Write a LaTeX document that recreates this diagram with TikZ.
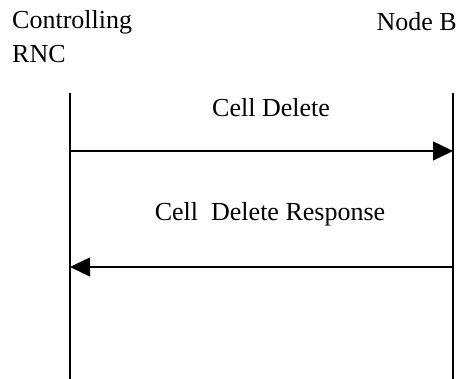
\documentclass[tikz,border=0pt]{standalone}
\usepackage{fontspec}
\setmainfont{Liberation Serif}
\usetikzlibrary{arrows.meta}
\begin{document}
\begin{tikzpicture}[x=1pt,y=1pt,
  lbl/.style={inner sep=0pt,font=\fontsize{26}{34}\selectfont},
  life/.style={line width=1.8pt},
  msg/.style={line width=1.4pt,-{Triangle[length=20pt,width=19pt]}}]
\useasboundingbox (0,0) rectangle (459,379);
% labels (y measured from top: y = 379 - ypx)
\node[lbl,anchor=base west] (ctl1) at (12,350) {Controlling};
\node[lbl,anchor=base west] (ctl2) at (12,316) {RNC};
\node[lbl,anchor=base east] (nodeb) at (457,348) {Node B};
% lifelines
\coordinate (rncTop) at (70,286);
\coordinate (rncBot) at (70,0);
\coordinate (nbTop) at (453,286);
\coordinate (nbBot) at (453,0);
\draw[life] (rncTop) -- (rncBot);
\draw[life] (nbTop) -- (nbBot);
% messages
\coordinate (m1s) at (70,228);
\coordinate (m1e) at (453,228);
\coordinate (m2s) at (453,112);
\coordinate (m2e) at (70,112);
\draw[msg] (m1s) -- (m1e);
\draw[msg] (m2s) -- (m2e);
\node[lbl,anchor=base] (t1) at (271,262) {Cell Delete};
\node[lbl,anchor=base] (t2) at (270,158) {Cell\ \ Delete Response};
\end{tikzpicture}
\end{document}
